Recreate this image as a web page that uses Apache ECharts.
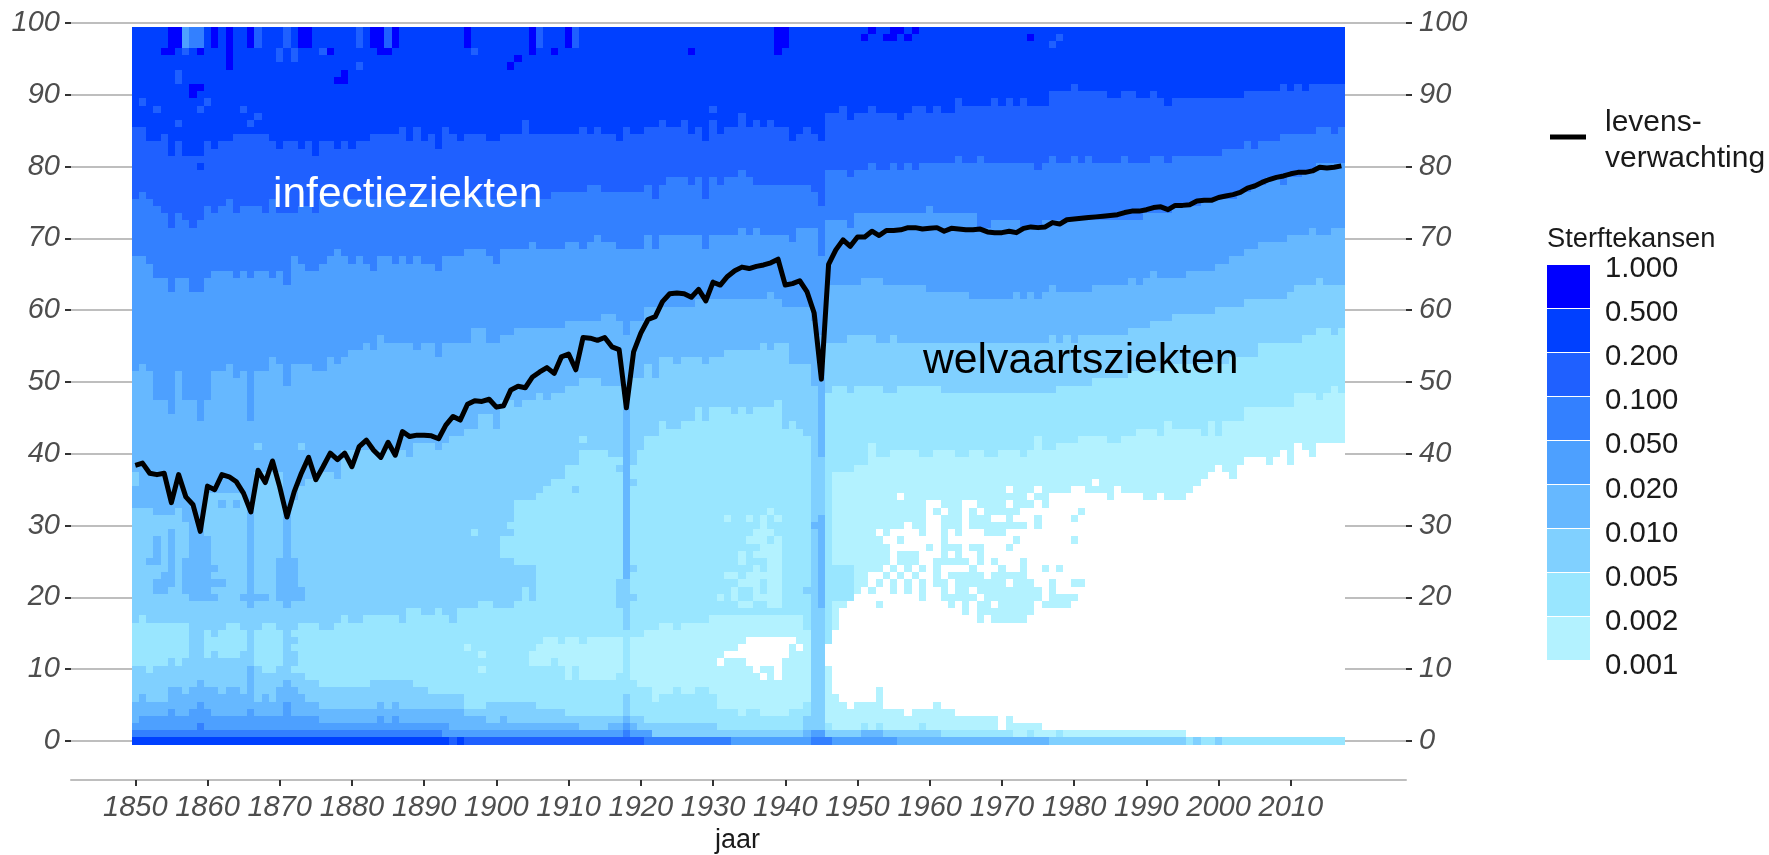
<!DOCTYPE html>
<html><head><meta charset="utf-8"><style>html,body{margin:0;padding:0;background:#fff}#c{width:1769px;height:855px}</style>
<script src="https://cdn.jsdelivr.net/npm/echarts@6/dist/echarts.min.js"></script></head>
<body><div id="c"></div><script>
const xTicks=[1850,1860,1870,1880,1890,1900,1910,1920,1930,1940,1950,1960,1970,1980,1990,2000,2010];
const yTicks=[0,10,20,30,40,50,60,70,80,90,100];
const legendLabels=['1.000','0.500','0.200','0.100','0.050','0.020','0.010','0.005','0.002','0.001'];
const classColors=['#FFFFFF','#B3F2FF','#99E6FF','#80D0FF','#66B8FF','#4DA0FF','#3380FF','#1F60FF','#0040FF','#0000FF'];
const lifeExpectancy=[38.4,38.7,37.3,37.1,37.3,33.2,37.1,34,32.9,29.2,35.5,35,37.1,36.8,36.1,34.5,31.9,37.7,36,39,35.4,31.2,34.7,37.3,39.5,36.4,38.2,40.1,39.2,40.1,38.2,41,41.9,40.5,39.5,41.6,39.8,43.1,42.4,42.6,42.6,42.5,42.1,44,45.2,44.7,46.9,47.4,47.3,47.6,46.5,46.7,48.9,49.4,49.2,50.7,51.4,52,51.2,53.5,53.9,51.7,56.2,56.1,55.8,56.2,54.9,54.5,46.4,54.2,56.8,58.7,59.1,61.2,62.3,62.4,62.3,61.8,62.9,61.3,63.9,63.5,64.7,65.5,66,65.8,66.1,66.3,66.6,67.1,63.5,63.7,64.1,62.6,59.6,50.4,66.4,68.4,69.8,68.9,70.2,70.2,71,70.4,71.1,71.1,71.2,71.5,71.5,71.3,71.4,71.5,71,71.4,71.3,71.2,71.2,71.3,70.9,70.8,70.8,71,70.8,71.4,71.6,71.5,71.6,72.2,72,72.6,72.7,72.8,72.9,73,73.1,73.2,73.3,73.6,73.8,73.8,74,74.3,74.4,74,74.6,74.6,74.7,75.2,75.3,75.3,75.7,75.9,76.1,76.4,77,77.3,77.8,78.2,78.5,78.7,79,79.2,79.2,79.4,79.9,79.8,79.9,80.1];
// Band edges read per year as step runs: [first year, age, first year, age, ...]
const upper8=[1850,86,1852,84,1854,85,1855,82,1856,84,1857,82,1860,84,1861,83,1862,84,1864,85,1869,84,1870,83,1871,84,1873,83,1874,84,1875,82,1876,84,1878,83,1879,84,1880,83,1881,84,1883,85,1887,86,1888,84,1889,86,1890,84,1891,85,1892,83,1893,86,1894,85,1895,84,1896,85,1899,84,1901,85,1904,87,1905,85,1912,86,1913,85,1914,86,1915,85,1917,84,1918,86,1919,85,1921,86,1923,87,1924,86,1926,87,1927,85,1928,86,1929,84,1930,87,1931,85,1932,86,1934,88,1935,86,1936,87,1937,86,1938,87,1939,86,1941,84,1942,85,1943,86,1944,85,1945,84,1946,88,1948,89,1949,87,1950,88,1952,89,1953,88,1956,87,1957,88,1958,89,1960,88,1961,89,1962,88,1964,90,1965,89,1969,90,1970,89,1971,90,1972,89,1973,90,1974,89,1977,91,1980,92,1981,91,1985,90,1987,91,1989,90,1991,91,1992,90,1993,89,1994,90,2004,91,2009,92,2010,91,2011,92,2012,91,2013,92];
const upper7=[1850,76,1851,77,1852,76,1853,75,1854,74,1855,72,1856,74,1857,73,1858,72,1859,73,1860,75,1861,74,1862,75,1863,76,1864,74,1865,75,1868,74,1869,76,1870,74,1873,75,1875,74,1876,76,1908,77,1913,78,1915,77,1921,78,1922,76,1923,78,1924,79,1927,78,1928,79,1929,76,1930,79,1931,78,1932,79,1934,80,1935,79,1936,78,1944,77,1945,75,1946,80,1949,79,1950,80,1952,81,1953,80,1955,81,1956,80,1957,81,1958,80,1959,81,1964,82,1965,81,1967,82,1968,81,1975,80,1976,81,1977,82,1978,81,1980,82,1981,81,1982,82,1983,81,1987,82,1988,81,1991,82,1993,81,1994,82,2001,83,2004,84,2005,83,2006,84,2009,85,2014,86,2016,85,2017,86];
const upper6=[1850,68,1852,67,1853,65,1855,63,1856,65,1858,63,1860,65,1861,66,1864,65,1865,66,1866,65,1867,66,1869,65,1870,66,1871,64,1872,68,1873,67,1874,66,1876,67,1877,68,1878,69,1879,68,1880,67,1881,68,1882,67,1883,66,1884,68,1886,67,1887,68,1888,67,1889,68,1890,67,1892,66,1893,68,1896,69,1899,68,1900,67,1901,69,1905,70,1906,69,1910,70,1912,69,1913,70,1914,71,1915,70,1917,69,1921,71,1922,69,1923,71,1929,69,1930,71,1934,72,1935,71,1936,72,1937,71,1941,70,1942,72,1945,68,1946,73,1949,72,1950,74,1960,75,1961,74,1967,72,1969,73,1973,72,1976,73,1990,74,1994,75,1998,76,2003,77,2005,78,2007,79,2009,78,2010,79,2012,80,2014,81];
const upper5=[1850,52,1851,53,1852,52,1853,48,1855,46,1856,52,1857,48,1859,45,1860,48,1861,52,1863,53,1864,51,1865,52,1866,45,1867,52,1869,54,1870,53,1871,50,1872,53,1875,52,1877,54,1878,53,1879,54,1880,55,1882,56,1883,55,1884,57,1885,56,1889,55,1890,56,1892,54,1893,56,1897,58,1899,56,1901,57,1903,58,1910,59,1915,60,1917,59,1918,57,1919,59,1921,61,1928,62,1938,63,1939,62,1940,61,1944,59,1945,57,1946,64,1951,65,1954,64,1960,63,1966,62,1972,63,1973,62,1974,63,1975,62,1976,63,1977,64,1978,63,1983,64,1988,65,1989,64,1990,65,1991,66,1992,65,1996,66,2000,67,2002,68,2004,69,2006,70,2010,71,2013,72,2014,71,2016,72];
const upper4=[1850,33,1853,32,1856,33,1857,31,1859,30,1860,35,1866,19,1867,38,1871,19,1872,34,1873,36,1874,37,1875,38,1878,37,1879,41,1888,40,1889,42,1892,41,1893,42,1894,43,1896,44,1898,46,1900,44,1901,48,1903,47,1904,48,1906,49,1907,48,1908,49,1910,50,1912,51,1915,50,1918,23,1919,51,1921,53,1922,51,1923,54,1925,53,1926,54,1929,53,1930,54,1932,55,1937,56,1938,55,1939,56,1941,53,1944,50,1945,19,1946,56,1949,57,1953,56,1955,57,1956,56,1977,57,1978,56,1979,57,1980,56,1981,57,1988,58,1991,59,1994,60,2000,61,2004,62,2010,63,2011,64,2014,65,2015,64];
const upper3=[1850,17,1851,18,1852,17,1858,18,1860,16,1861,15,1862,16,1863,17,1865,16,1866,18,1867,16,1868,17,1870,16,1871,18,1873,17,1876,16,1878,17,1879,18,1880,17,1882,18,1887,17,1888,19,1890,18,1892,19,1893,18,1894,17,1895,19,1898,20,1900,19,1903,20,1904,22,1905,20,1906,35,1907,36,1908,37,1910,39,1912,41,1916,40,1918,16,1919,39,1920,41,1921,43,1923,45,1924,44,1926,45,1928,47,1929,45,1930,47,1933,46,1934,47,1935,46,1936,47,1939,48,1940,44,1941,45,1942,44,1943,43,1944,5,1945,0,1946,49,1947,50,1949,49,1950,50,1954,49,1956,50,1962,49,1978,50,1983,51,1988,52,1993,53,2002,54,2006,56,2012,57,2014,58,2016,57,2017,58];
const upper2=[1850,0,1906,14,1907,15,1909,14,1910,15,1912,14,1913,15,1918,0,1919,15,1921,16,1923,17,1925,16,1926,17,1930,18,1943,16,1944,0,1946,14,1947,38,1950,39,1952,42,1953,40,1955,41,1959,40,1961,41,1964,40,1966,41,1968,40,1970,41,1973,40,1974,41,1975,43,1976,41,1978,42,1981,43,1985,42,1987,43,1989,44,1992,43,1993,45,1994,44,1998,43,1999,45,2000,43,2001,45,2004,47,2011,49,2014,48,2015,49,2016,50,2017,49];
const upper1=[1850,0,1946,14,1947,16,1948,19,1949,20,1950,37,1982,35,1985,34,1986,36,1987,35,1990,34,1992,35,1993,34,1996,35,1997,36,1998,37,1999,38,2000,39,2001,38,2002,37,2003,39,2004,40,2007,39,2008,40,2009,41,2010,39,2011,42,2012,41,2013,40,2014,42];
const lower8=[1850,0,1894,-1,1895,0,1896,-1];
const lower7=[1850,0,1921,-1];
const lower6=[1850,1,1859,2,1860,1,1893,0,1918,1,1919,0,1933,-1,1944,0,1947,-1];
const lower5=[1850,2,1851,3,1855,4,1856,3,1858,4,1859,5,1860,4,1861,3,1866,4,1867,3,1871,5,1872,3,1876,2,1884,3,1885,2,1886,3,1887,2,1894,1,1918,2,1919,1,1922,0,1944,1,1946,0,1956,-1];
const lower4=[1850,5,1851,6,1852,5,1855,7,1857,6,1858,7,1859,8,1860,7,1862,6,1863,7,1865,6,1866,10,1867,5,1868,6,1869,5,1870,7,1871,8,1872,7,1873,6,1874,5,1876,4,1884,5,1885,4,1886,5,1887,4,1896,3,1899,2,1901,3,1902,2,1912,1,1916,2,1918,3,1919,2,1920,1,1922,0,1943,1,1946,0,1951,1,1954,0,1977,-1];
const lower3=[1850,10,1852,9,1853,10,1855,11,1856,10,1857,11,1858,17,1860,11,1861,12,1862,11,1865,12,1866,17,1867,10,1868,9,1870,10,1871,17,1873,9,1874,8,1876,7,1883,8,1889,7,1891,6,1896,4,1899,5,1906,4,1910,3,1918,6,1919,3,1921,2,1931,1,1943,3,1944,5,1945,20,1946,1,1962,0,1996,-1,1997,0,1998,-1,2000,0,2001,-1];
const lower2=[1850,0,1906,10,1908,11,1909,10,1910,8,1911,10,1912,8,1917,9,1918,20,1919,8,1920,7,1922,5,1923,6,1925,7,1926,6,1928,7,1930,6,1931,4,1934,3,1935,4,1937,3,1941,4,1943,5,1944,30,1946,2,1947,1,1951,2,1952,1,1953,2,1954,1,1959,2,1960,1,1972,0,1974,1,1975,0,1978,1,1979,0];
const lower1=[1850,99,1946,10,1947,6,1948,5,1949,4,1950,5,1953,7,1954,4,1957,3,1958,4,1961,5,1962,4,1964,3,1970,1,1971,3,1972,2,1976,1,1996,0];
// Isolated cells and small blocks: [class, first year, last year, first age, last age]
const cellPatches=[
[9,1855,1856,97,99],[9,1854,1855,96,96],[5,1857,1857,97,99],[6,1858,1859,97,99],[7,1857,1857,96,96],[9,1859,1859,96,96],[9,1861,1861,97,99],[9,1863,1863,94,99],[9,1866,1866,97,99],[7,1867,1867,97,99],[7,1871,1871,97,99],[7,1870,1870,95,96],[7,1872,1872,95,96],[9,1873,1874,97,99],[7,1876,1876,96,96],[9,1877,1877,96,96],[7,1881,1881,97,99],[9,1883,1884,97,99],[9,1884,1885,96,96],[7,1885,1885,97,99],[9,1886,1886,97,99],[7,1881,1881,94,94],[9,1879,1879,92,93],[9,1878,1878,92,92],[9,1896,1896,97,99],[7,1897,1897,96,96],[9,1905,1905,96,99],[9,1903,1903,95,95],[9,1902,1902,94,94],
[7,1856,1856,92,93],[9,1858,1859,91,91],[9,1858,1858,90,90],[7,1860,1860,89,89],[7,1851,1851,89,89],[7,1853,1853,88,88],[7,1859,1859,88,88],[7,1865,1865,88,88],[7,1867,1867,87,87],[7,1866,1866,86,86],[7,1856,1856,86,86],[8,1859,1859,80,80],
[7,1906,1906,97,99],[9,1910,1910,97,99],[7,1911,1911,97,99],[9,1908,1908,96,96],[9,1927,1927,96,96],[9,1939,1940,97,99],[9,1939,1939,96,96],[7,1930,1930,88,88],
[9,1951,1951,98,98],[9,1952,1952,99,99],[9,1954,1955,98,98],[9,1955,1956,99,99],[9,1957,1957,98,98],[9,1958,1958,99,99],[9,1974,1974,98,98],[7,1978,1978,98,98],[7,1977,1977,97,97],
[4,1855,1855,23,29],[4,1853,1853,25,28],[4,1852,1853,25,25],[4,1854,1855,23,23],[4,1853,1855,22,22],[4,1853,1854,21,21],[4,1858,1860,25,28],[4,1857,1860,21,25],[4,1857,1861,24,24],[4,1857,1862,22,22],[4,1858,1861,20,20],[4,1858,1859,29,31],[4,1865,1868,20,20],[4,1870,1872,21,25],[4,1870,1873,20,21],
[3,1867,1867,41,41],[3,1873,1873,41,41],[3,1850,1850,36,37],[4,1862,1862,33,33],[4,1864,1864,33,33],[4,1878,1878,37,37],
[2,1901,1902,26,28],[2,1902,1902,30,30],[2,1897,1897,29,29],[2,1903,1905,25,33],[2,1904,1904,20,21],[2,1872,1872,15,15],[2,1872,1872,13,13],[2,1872,1872,10,10],
[1,1896,1896,13,13],[1,1898,1898,12,12],[1,1898,1898,10,10],[1,1905,1905,11,12],
[2,1912,1912,42,42],[3,1911,1911,35,35],[3,1917,1917,22,22],[3,1917,1917,19,21],[3,1919,1919,24,24],[3,1919,1919,20,20],[3,1919,1919,36,36],[3,1917,1917,38,38],[3,1943,1943,21,21],
[3,1945,1945,37,39],[3,1945,1945,32,36],[4,1944,1944,30,30],[2,1947,1949,20,24],
[1,1938,1938,32,32],[1,1932,1932,31,31],[1,1935,1935,31,31],[1,1937,1937,30,31],[1,1939,1939,31,31],[1,1936,1938,29,29],[1,1935,1937,28,28],[1,1939,1939,28,28],[1,1937,1939,27,27],[1,1934,1934,25,26],[1,1936,1939,26,26],[1,1938,1939,24,25],[1,1936,1936,24,24],[1,1932,1933,23,23],[1,1935,1939,23,23],[1,1934,1936,22,22],[1,1938,1939,19,22],[1,1933,1933,20,21],[1,1936,1936,21,21],[1,1931,1931,20,20],[1,1936,1937,20,20],[1,1934,1935,19,19],
[0,1935,1941,14,14],[0,1934,1940,13,13],[0,1942,1942,13,13],[0,1932,1940,12,12],[0,1931,1931,11,11],[0,1935,1939,11,11],[0,1936,1936,10,10],[0,1939,1939,10,10],[0,1937,1937,9,9],[0,1939,1939,9,9],[0,1983,1983,36,36],
[8,1895,1895,0,0]];
// Cells at the edge of the white area, 1950-1981, ages 36 down to 17: # coloured, . white
const speckleFirstYear=1950, speckleTopAge=36;
const speckleRows=[
"################################",
"#####################.###.####..",
"######.#################.##.....",
"##########..###..####.###.#.....",
"##########.#.##.#.#####........#",
"##########..###.###..#...#....#.",
"#######.##..###.########.#......",
"###.#....#..#.#...###...........",
"####..#.....#.........#.......#.",
"#####.....#.###.##...#..........",
"#####.###...#.#..#..............",
"#####.###..#####.#.#...#........",
"####.#.#.#.#....#...#..#..#.#...",
"##..#.#.#..#.#####.#####........",
"##.#.#.#.#.##.#######.###..#..##",
"#.#..#.#.#..#.##.#########.#....",
".........#..#####.########.####.",
"...#.........#.#.##.#####.####..",
"...............#.########.......",
".................#.#####........"];

const years=[];for(let y=1850;y<=2017;y++)years.push(y);
const ages=[];for(let a=0;a<=99;a++)ages.push(a);
function stepAt(r,y){let v=r[1];for(let i=0;i<r.length;i+=2){if(r[i]<=y)v=r[i+1];else break;}return v;}
const uppers=[null,upper1,upper2,upper3,upper4,upper5,upper6,upper7,upper8];
const lowers=[null,lower1,lower2,lower3,lower4,lower5,lower6,lower7,lower8];
function classOf(y,a){
  let c=0;
  for(let k=1;k<=8;k++){if(a>=stepAt(uppers[k],y)||a<=stepAt(lowers[k],y))c=k;}
  const sr=speckleTopAge-a;
  if(y>=speckleFirstYear&&sr>=0&&sr<speckleRows.length){
    const ch=speckleRows[sr][y-speckleFirstYear];
    if(ch==='#'&&c<1)c=1;
  }
  for(const p of cellPatches){if(y>=p[1]&&y<=p[2]&&a>=p[3]&&a<=p[4])c=p[0];}
  return c;
}
const cells=[];for(const y of years)for(const a of ages)cells.push([y,a,classOf(y,a)]);
const linePts=years.map((y,i)=>[y,lifeExpectancy[i]]);

const FONT='"Liberation Sans",Arial,sans-serif';
const g=[];
function t(x,y,text,size,fill,align){g.push({type:'text',x:x,y:y,z:50,silent:true,style:{text:text,font:size+'px '+FONT,fill:fill,textAlign:align||'left',textVerticalAlign:'middle'}});}
t(273,195,'infectieziekten',42.5,'#FFFFFF');
t(923,361,'welvaartsziekten',42.7,'#000000');
t(737.5,841,'jaar',27,'#1a1a1a','center');
g.push({type:'rect',z:50,silent:true,shape:{x:1550,y:134.5,width:36,height:5},style:{fill:'#000'}});
t(1605,123,'levens-',30,'#1a1a1a');
t(1605,159,'verwachting',30,'#1a1a1a');
t(1547,239,'Sterftekansen',27.3,'#1a1a1a');
for(let i=0;i<9;i++){
  g.push({type:'rect',z:50,silent:true,shape:{x:1547,y:265+i*44,width:43,height:43},style:{fill:classColors[9-i]}});
}
legendLabels.forEach((s,i)=>t(1605,269+i*44.1,s,29.3,'#1a1a1a'));

const axisLbl={fontFamily:FONT,fontStyle:'italic',fontSize:29,color:'#4D4D4D',hideOverlap:false,formatter:v=>String(v)};
const xMin=1841.1,xMax=2025.95,yMin=-5.43,yMax=100;
function yAx(pos,marg,align){return {type:'value',position:pos,min:yMin,max:yMax,
  axisLine:{show:false},splitLine:{show:false},
  axisTick:{show:true,length:6,customValues:yTicks,lineStyle:{color:'#333',width:2}},
  axisLabel:Object.assign({},axisLbl,{customValues:yTicks,margin:marg,align:align,padding:[7,0,0,0]})};}
const chart=echarts.init(document.getElementById('c'),null,{renderer:'canvas'});
chart.setOption({
  animation:false,backgroundColor:'#fff',
  grid:{left:71,width:1335,top:23,height:757,containLabel:false},
  xAxis:{type:'value',min:xMin,max:xMax,splitLine:{show:false},
    axisLine:{show:true,onZero:false,lineStyle:{color:'#BEBEBE',width:2}},
    axisTick:{show:true,length:6,customValues:xTicks,lineStyle:{color:'#333',width:2}},
    axisLabel:Object.assign({},axisLbl,{customValues:xTicks,margin:13})},
  yAxis:[yAx('left',11,'right'),yAx('right',13,'left')],
  series:[
    {type:'line',z:1,data:[],silent:true,markLine:{z:1,silent:true,symbol:'none',animation:false,label:{show:false},
      lineStyle:{color:'#BEBEBE',width:2,type:'solid'},data:yTicks.map(v=>({yAxis:v}))}},
    {type:'custom',z:2,silent:true,progressive:0,data:cells,encode:{x:0,y:1},
      renderItem:function(p,api){
        const y=api.value(0),a=api.value(1),c=api.value(2);
        const p0=api.coord([y-0.5,a+0.5]),p1=api.coord([y+0.5,a-0.5]);
        const x0=Math.round(p0[0]),y0=Math.round(p0[1]),x1=Math.round(p1[0]),y1=Math.round(p1[1]);
        return {type:'rect',shape:{x:x0,y:y0,width:x1-x0,height:y1-y0},style:{fill:classColors[c]}};
      }},
    {type:'line',z:3,data:linePts,showSymbol:false,silent:true,smooth:false,
      lineStyle:{color:'#000',width:5,join:'round'}}
  ],
  graphic:g
});
</script></body></html>
